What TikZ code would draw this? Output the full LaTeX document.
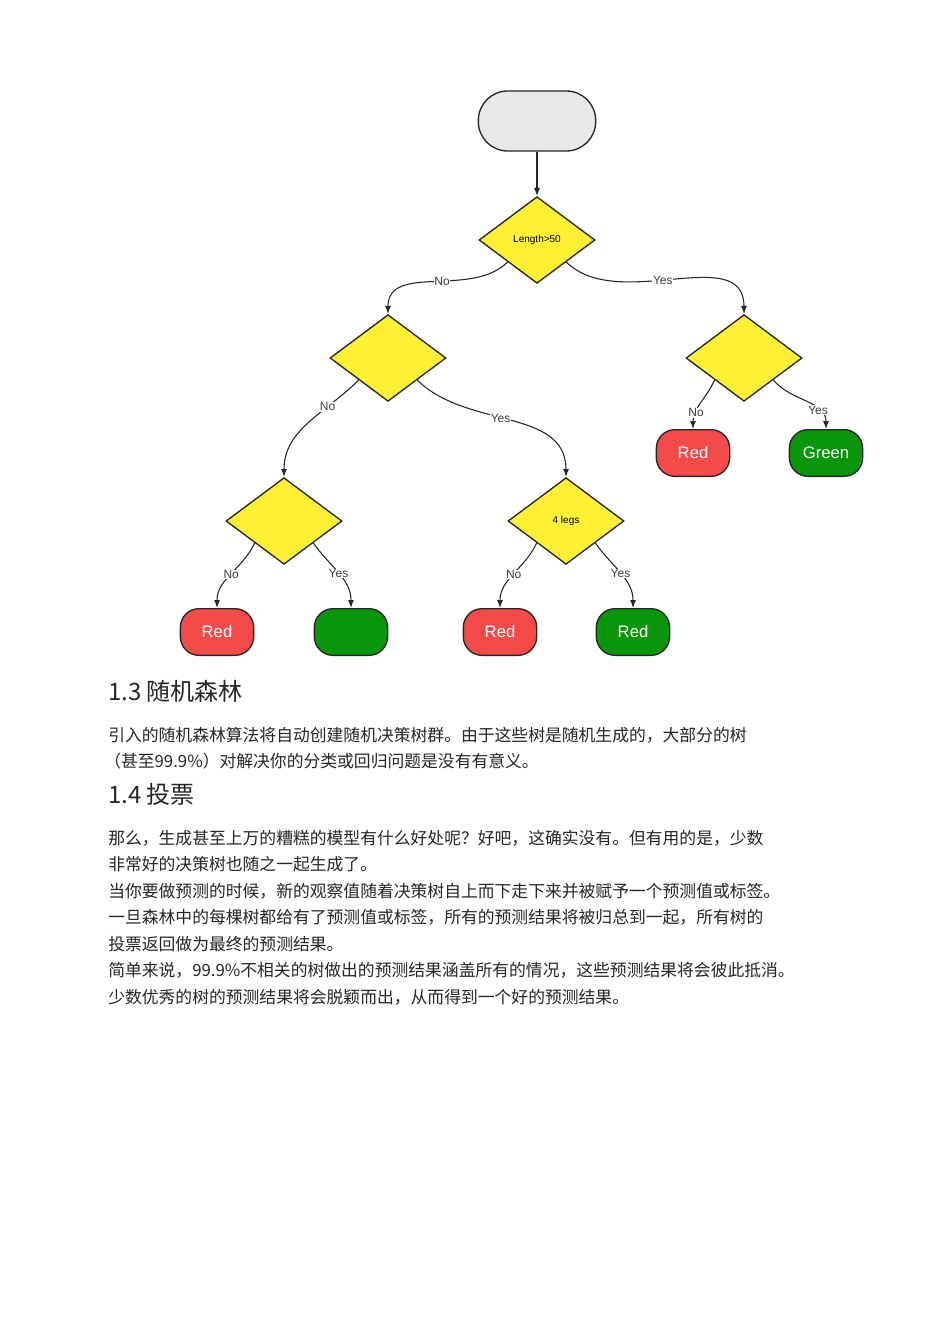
\documentclass[tikz,border=0pt]{standalone}
\usepackage{fontspec}
\setmainfont{Liberation Sans}
\newfontfamily\cjk{Noto Sans CJK SC}
\usetikzlibrary{shapes.geometric,arrows.meta}
\definecolor{ylw}{HTML}{FFF033}
\definecolor{rd}{HTML}{F34A4A}
\definecolor{gr}{HTML}{0A960A}
\tikzset{
 dec/.style={diamond,draw=black!85,line width=1pt,fill=ylw,minimum width=87pt,minimum height=65pt,inner sep=0pt,font=\fontsize{7.5}{9}\selectfont},
 leaf/.style={rounded corners=14pt,draw=black!85,line width=1pt,minimum width=55pt,minimum height=35pt,text=white,font=\fontsize{12.5}{14}\selectfont},
 redleaf/.style={leaf,fill=rd},
 greenleaf/.style={leaf,fill=gr},
 conn/.style={-{Latex[length=6pt,width=4.5pt]},line width=0.8pt,black!85},
 lab/.style={fill=white,inner sep=0.5pt,font=\fontsize{9}{10}\selectfont,text=black!75},
 para/.style={anchor=base west,inner sep=0pt,font=\cjk\fontsize{12.6}{15}\selectfont,text=black!85},
 head/.style={anchor=base west,inner sep=0pt,font=\cjk\fontsize{18}{20}\selectfont,text=black!85}
}
\begin{document}
\begin{tikzpicture}[x=0.75pt,y=-0.75pt]
\useasboundingbox[fill=white] (0,0) rectangle (950,1344);
\node[rounded corners=22pt,draw=black!85,line width=1pt,fill=black!9,minimum width=88pt,minimum height=45pt] (start) at (537,121) {};
\node[dec] (d1) at (537,240) {Length>50};
\node[dec] (d2) at (388,358) {};
\node[dec] (d3) at (744,358) {};
\node[dec] (d4) at (284,521) {};
\node[dec] (d5) at (566,521) {4 legs};
\node[redleaf] (l1) at (217,632) {Red};
\node[greenleaf] (l2) at (351,632) {};
\node[redleaf] (l3) at (500,632) {Red};
\node[greenleaf] (l4) at (633,632) {Red};
\node[redleaf] (l5) at (693,453) {Red};
\node[greenleaf] (l6) at (826,453) {Green};
\draw[conn] (start) -- (d1);
\draw[conn] (d1.south west) to[out=-135,in=90] node[lab,pos=0.45]{No} (d2.north);
\draw[conn] (d1.south east) to[out=-45,in=90] node[lab,pos=0.45]{Yes} (d3.north);
\draw[conn] (d2.south west) to[out=-135,in=90] node[lab,pos=0.3]{No} (d4.north);
\draw[conn] (d2.south east) to[out=-45,in=90] node[lab,pos=0.45]{Yes} (d5.north);
\draw[conn] (d3.south west) to[out=-115,in=90] node[lab,pos=0.7]{No} (l5.north);
\draw[conn] (d3.south east) to[out=-50,in=90] node[lab,pos=0.7]{Yes} (l6.north);
\draw[conn] (d4.south west) to[out=-115,in=90] node[lab,pos=0.5]{No} (l1.north);
\draw[conn] (d4.south east) to[out=-55,in=90] node[lab,pos=0.5]{Yes} (l2.north);
\draw[conn] (d5.south west) to[out=-115,in=90] node[lab,pos=0.5]{No} (l3.north);
\draw[conn] (d5.south east) to[out=-55,in=90] node[lab,pos=0.5]{Yes} (l4.north);
\node[head] (h1) at (108,700) {1.3 随机森林};
\node[para] (p1) at (108,741) {引入的随机森林算法将自动创建随机决策树群。由于这些树是随机生成的，大部分的树};
\node[para] (p2) at (104,767) {（甚至99.9\%）对解决你的分类或回归问题是没有有意义。};
\node[head] (h2) at (108,803) {1.4 投票};
\node[para] (p3) at (108,844) {那么，生成甚至上万的糟糕的模型有什么好处呢？好吧，这确实没有。但有用的是，少数};
\node[para] (p4) at (108,870) {非常好的决策树也随之一起生成了。};
\node[para] (p5) at (108,897) {当你要做预测的时候，新的观察值随着决策树自上而下走下来并被赋予一个预测值或标签。};
\node[para] (p6) at (108,923) {一旦森林中的每棵树都给有了预测值或标签，所有的预测结果将被归总到一起，所有树的};
\node[para] (p7) at (108,950) {投票返回做为最终的预测结果。};
\node[para] (p8) at (108,976) {简单来说，99.9\%不相关的树做出的预测结果涵盖所有的情况，这些预测结果将会彼此抵消。};
\node[para] (p9) at (108,1003) {少数优秀的树的预测结果将会脱颖而出，从而得到一个好的预测结果。};
\end{tikzpicture}
\end{document}
